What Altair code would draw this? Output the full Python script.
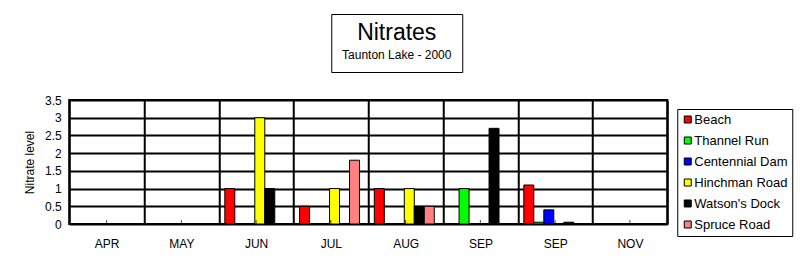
import altair as alt
import pandas as pd

FONT = "Liberation Sans"

# ---- data ----
months = ["APR", "MAY", "JUN", "JUL", "AUG", "SEP", "SEP ", "NOV"]
sites = ["Beach", "Thannel Run", "Centennial Dam", "Hinchman Road", "Watson's Dock", "Spruce Road"]
colors = ["#FF0000", "#00FF00", "#0000FF", "#FFFF00", "#000000", "#FF8080"]

beach = [None, None, 1.0, 0.5, 1.0, None, 1.1, None]
thannel_run = [None, None, None, None, None, 1.0, 0.05, None]
centennial_dam = [None, None, None, None, None, None, 0.4, None]
hinchman_road = [None, None, 3.0, 1.0, 1.0, None, None, None]
watsons_dock = [None, None, 1.0, None, 0.5, 2.7, 0.05, None]
spruce_road = [None, None, None, 1.8, 0.5, None, None, None]

y_ticks = [0, 0.5, 1, 1.5, 2, 2.5, 3, 3.5]
title_text = "Nitrates"
subtitle_text = "Taunton Lake - 2000"
y_title = "Nitrate level"

series = [beach, thannel_run, centennial_dam, hinchman_road, watsons_dock, spruce_road]
rows = []
for site, vals in zip(sites, series):
    for m, v in zip(months, vals):
        if v is not None:
            rows.append({"month": m, "site": site, "value": v})
df = pd.DataFrame(rows)
ticks_df = pd.DataFrame({"month": months, "value": [0] * len(months)})

x_scale = alt.Scale(domain=months, paddingInner=0, paddingOuter=0)
y_scale = alt.Scale(domain=[0, 3.5], nice=False, zero=True)

x_axis = alt.Axis(
    title=None, labelExpr="trim(datum.label)", labelAngle=0, labelFont=FONT,
    labelFontSize=12, labelColor="black", labelPadding=14, ticks=False,
    domain=False, grid=True, gridColor="black", gridWidth=2, gridOpacity=1,
    tickBand="extent",
)
y_axis = alt.Axis(
    title=y_title, values=y_ticks, format=".1~f", labelFont=FONT, labelFontSize=12,
    labelColor="black", labelPadding=8, ticks=False, domain=False, grid=True,
    gridColor="black", gridWidth=2, gridOpacity=1, titleFont=FONT,
    titleFontSize=12, titleFontWeight="normal", titleColor="black", titlePadding=8,
)

bars = alt.Chart(df).mark_bar(stroke="black", strokeWidth=1, opacity=1).encode(
    x=alt.X("month:N", sort=months, scale=x_scale, axis=x_axis),
    xOffset=alt.XOffset("site:N", sort=sites,
                        scale=alt.Scale(domain=sites, paddingInner=0, paddingOuter=0.74, align=0.41)),
    y=alt.Y("value:Q", scale=y_scale, axis=y_axis),
    color=alt.Color(
        "site:N", sort=sites, scale=alt.Scale(domain=sites, range=colors),
        legend=alt.Legend(
            title=None, orient="none", legendX=608, legendY=9, direction="vertical",
            symbolType="square", symbolSize=49, symbolStrokeColor="black",
            symbolStrokeWidth=1, symbolOpacity=1, labelFont=FONT, labelFontSize=13,
            labelColor="black", labelOffset=0, rowPadding=7, padding=4,
            fillColor="white", strokeColor="black",
        ),
    ),
)

center_ticks = alt.Chart(ticks_df).mark_tick(
    orient="vertical", size=4, thickness=1, color="black", yOffset=-2
).encode(
    x=alt.X("month:N", sort=months, scale=x_scale, axis=x_axis),
    y=alt.Y("value:Q", scale=y_scale, axis=y_axis),
)

main = alt.layer(bars, center_ticks).properties(
    width=598, height=124,
    view=alt.ViewBackground(stroke="black", strokeWidth=2, fill="white"),
)

title_panel = alt.Chart(pd.DataFrame({"t": [""]})).mark_text().encode(
    text="t:N",
    y=alt.Y("t:N", axis=alt.Axis(
        orient="right", title="x", titleOpacity=0, titleFontSize=12,
        titlePadding=56, labels=False, ticks=False, domain=False, grid=False,
    )),
).properties(
    width=131, height=58,
    view=alt.ViewBackground(stroke="black", strokeWidth=1, fill="white"),
    title=alt.Title(
        title_text, subtitle=subtitle_text, anchor="middle", offset=-47,
        font=FONT, fontSize=23, fontWeight="normal", color="black",
        subtitleFont=FONT, subtitleFontSize=12, subtitleColor="black",
        subtitlePadding=5,
    ),
)

chart = alt.vconcat(title_panel, main, spacing=20, center=True).resolve_scale(
    color="independent"
).resolve_legend(color="independent").configure(
    font=FONT, background="white",
    padding={"left": 22, "top": 13, "right": 0, "bottom": 0},
)

chart.save("out.html", embed_options={"renderer": "svg", "actions": False})
